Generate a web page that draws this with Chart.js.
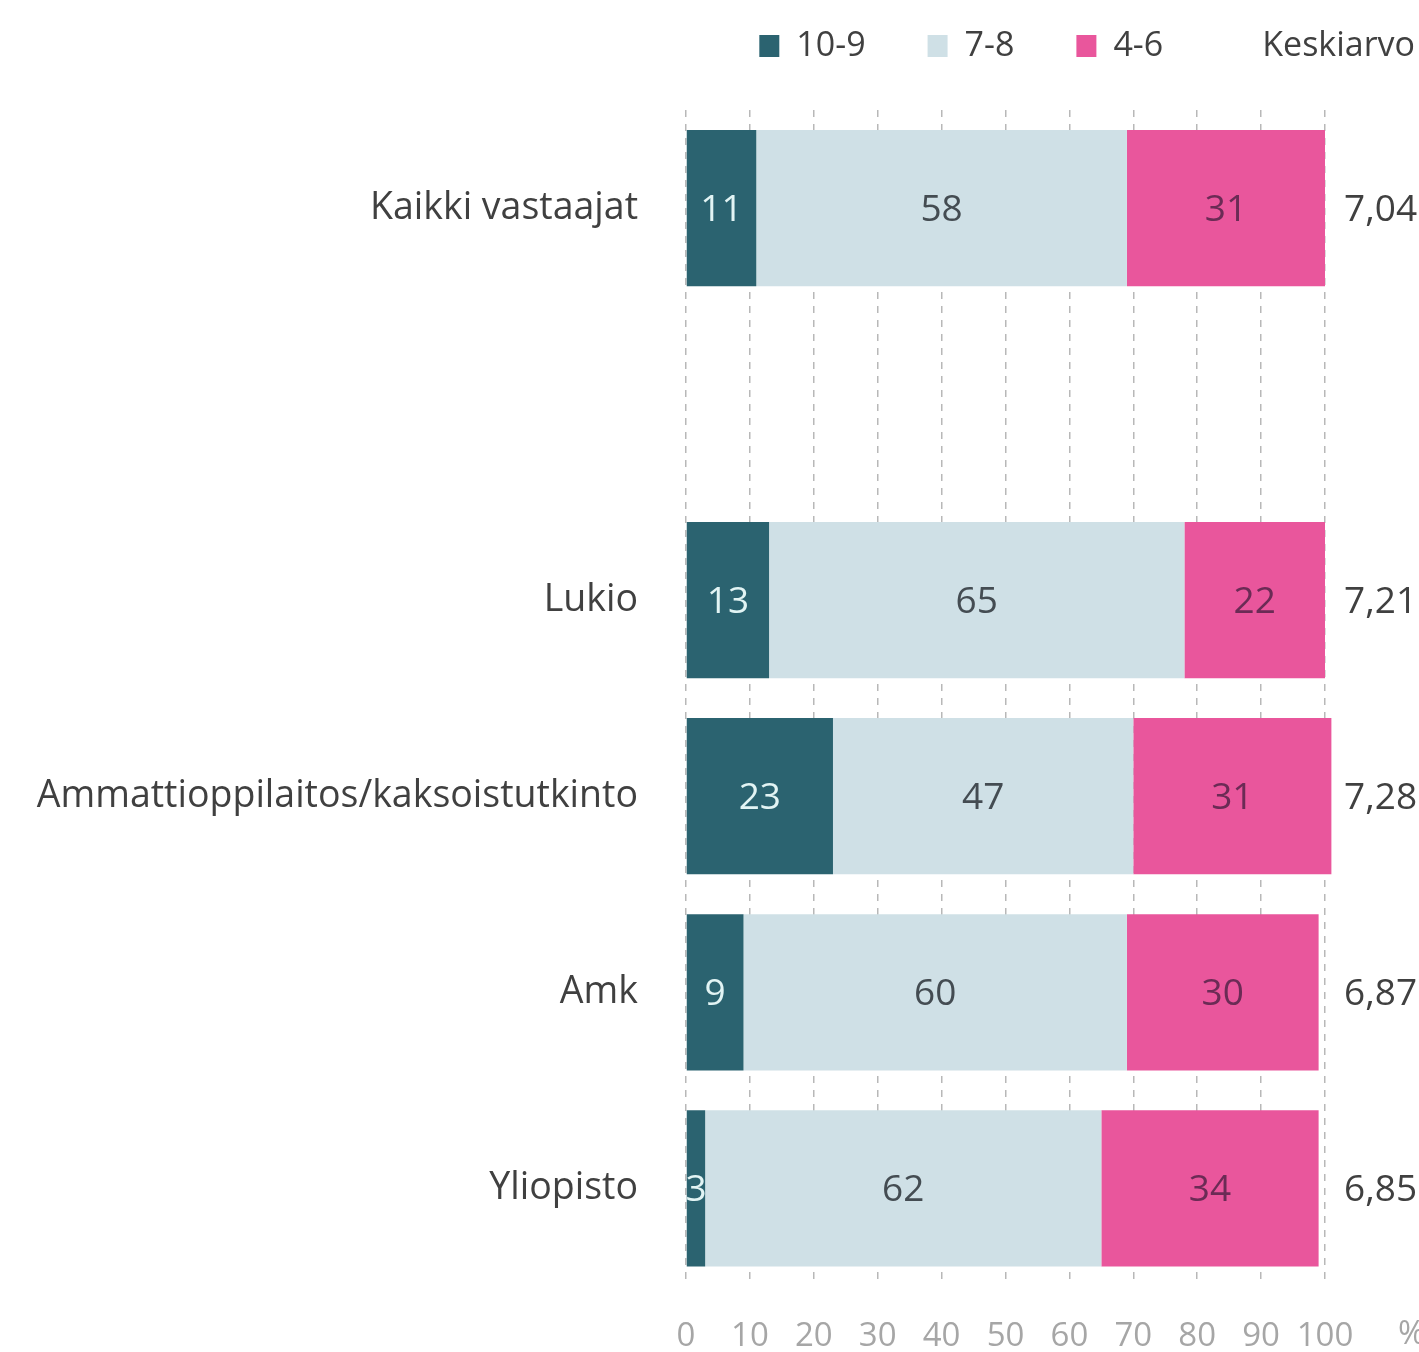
<!DOCTYPE html>
<html>
<head>
<meta charset="utf-8">
<script src="https://cdn.jsdelivr.net/npm/chart.js@4.4.1/dist/chart.umd.min.js"></script>
<style>
  html, body { margin: 0; padding: 0; background: #fff; }
  #wrap { width: 1419px; height: 1352px; }
</style>
</head>
<body>
<div id="wrap"><canvas id="arvosana-chart"></canvas></div>
<script>
// Data
const categories = ["Kaikki vastaajat", "", "Lukio", "Ammattioppilaitos/kaksoistutkinto", "Amk", "Yliopisto"];
const grade10to9 = [11, null, 13, 23, 9, 3];
const grade7to8 = [58, null, 65, 47, 60, 62];
const grade4to6 = [31, null, 22, 31, 30, 34];
const keskiarvo = [7.04, null, 7.21, 7.28, 6.87, 6.85];
const xTicks = [0, 10, 20, 30, 40, 50, 60, 70, 80, 90, 100];

const fontName = "'Open Sans', sans-serif";
const legendPad = 62;

// values inside bars
const barLabels = {
    id: "barLabels",
    afterDatasetsDraw(chart) {
        const ctx = chart.ctx;
        ctx.save();
        ctx.font = "37px " + fontName;
        ctx.textAlign = "center";
        ctx.textBaseline = "middle";
        chart.data.datasets.forEach((ds, i) => {
            const meta = chart.getDatasetMeta(i);
            if (meta.hidden) return;
            meta.data.forEach((bar, j) => {
                const v = ds.data[j];
                if (v === null || v === undefined) return;
                ctx.fillStyle = ds.labelColor;
                ctx.fillText(String(v), (bar.x + bar.base) / 2, bar.y + 2);
            });
        });
        ctx.restore();
    },
};

// averages at the right + "%" unit
const sideText = {
    id: "sideText",
    afterDraw(chart) {
        const ctx = chart.ctx;
        const y = chart.scales.y;
        ctx.save();
        ctx.font = "37px " + fontName;
        ctx.fillStyle = "#404040";
        ctx.textAlign = "left";
        ctx.textBaseline = "middle";
        keskiarvo.forEach((v, i) => {
            if (v === null) return;
            ctx.fillText(v.toFixed(2).replace(".", ","), 1344, y.getPixelForValue(i) + 2);
        });
        ctx.fillStyle = "#a6a6a6";
        ctx.font = "33px " + fontName;
        ctx.fillText("%", 1398, chart.chartArea.bottom + 48);
        ctx.restore();
    },
};

// legend: fixed height, pushed to the top right corner
const legendPlace = {
    id: "legendPlace",
    beforeInit(chart) {
        chart.legend.fit = (function (fit) {
            return function () {
                fit.call(this);
                this.height = 104;
            };
        })(chart.legend.fit);
    },
    afterLayout(chart) {
        const lg = chart.legend;
        lg.right = chart.width + legendPad - 4;
        lg.left = lg.right - lg.width;
        lg.top = -33;
        lg.bottom = lg.top + lg.height;
    },
};

new Chart(document.getElementById("arvosana-chart").getContext("2d"), {
    type: "bar",
    data: {
        labels: categories,
        datasets: [
            {
                label: "10-9",
                data: grade10to9,
                backgroundColor: "#2b6370",
                labelColor: "#e2f4f4",
            },
            {
                label: "7-8",
                data: grade7to8,
                backgroundColor: "#cfe0e6",
                labelColor: "#444c52",
            },
            {
                label: "4-6",
                data: grade4to6,
                backgroundColor: "#e9569c",
                labelColor: "#6b2b55",
            },
        ],
    },
    options: {
        indexAxis: "y",
        responsive: true,
        maintainAspectRatio: false,
        animation: false,
        layout: {
            padding: { top: 6, right: 94, bottom: -34, left: 0 },
        },
        datasets: {
            bar: {
                categoryPercentage: 1,
                barPercentage: 0.797,
                clip: false,
            },
        },
        scales: {
            x: {
                stacked: true,
                min: 0,
                max: 100,
                afterBuildTicks: (scale) => {
                    scale.ticks = xTicks.map((v) => ({ value: v }));
                },
                border: { display: false, dash: [7, 7] },
                grid: {
                    color: "#b8b8b8",
                    lineWidth: 1.5,
                    drawTicks: false,
                },
                ticks: {
                    color: "#a6a6a6",
                    padding: 30,
                    font: { family: fontName, size: 33 },
                },
            },
            y: {
                stacked: true,
                afterFit: (scale) => {
                    scale.width = 686;
                },
                border: { display: false },
                grid: { display: false },
                ticks: {
                    color: "#404040",
                    padding: 40,
                    font: { family: fontName, size: 37.5 },
                },
            },
        },
        plugins: {
            tooltip: { enabled: false },
            legend: {
                position: "top",
                align: "end",
                labels: {
                    boxWidth: 20,
                    boxHeight: 22,
                    padding: legendPad,
                    color: "#404040",
                    font: { family: fontName, size: 34 },
                    generateLabels: (chart) => {
                        const items = Chart.defaults.plugins.legend.labels.generateLabels(chart);
                        items.forEach((it) => {
                            it.lineWidth = 0;
                            it.strokeStyle = "rgba(0,0,0,0)";
                        });
                        items.push({
                            text: "Keskiarvo",
                            fillStyle: "rgba(0,0,0,0)",
                            strokeStyle: "rgba(0,0,0,0)",
                            lineWidth: 0,
                            fontColor: "#404040",
                            hidden: false,
                            datasetIndex: -1,
                        });
                        return items;
                    },
                },
            },
        },
    },
    plugins: [legendPlace, barLabels, sideText],
});
</script>
</body>
</html>
